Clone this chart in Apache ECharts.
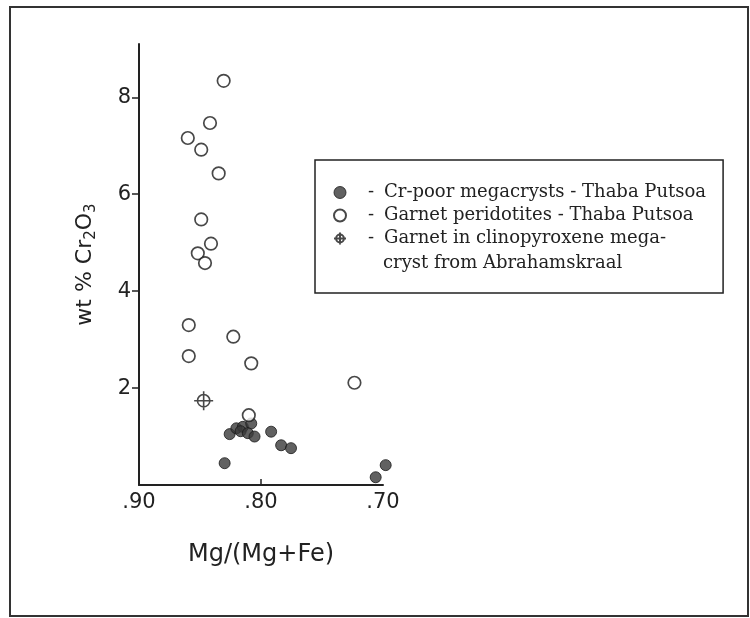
<!DOCTYPE html>
<html>
<head>
<meta charset="utf-8">
<script src="https://cdn.jsdelivr.net/npm/echarts@6/dist/echarts.min.js"></script>
<style>
  html, body { margin: 0; padding: 0; background: #fff; }
  #chart { width: 750px; height: 618px; }
</style>
</head>
<body>
<div id="chart"></div>
<script>
// Cr-poor megacrysts - Thaba Putsoa (filled)
var crPoorMg = [0.8257, 0.8202, 0.8149, 0.8167, 0.8080, 0.8108, 0.8053, 0.7917, 0.7835, 0.7754, 0.8298, 0.7060, 0.6978];
var crPoorCr = [1.05, 1.17, 1.20, 1.11, 1.27, 1.07, 1.00, 1.10, 0.82, 0.76, 0.45, 0.16, 0.41];

// Garnet peridotites - Thaba Putsoa (open)
var peridMg = [0.8306, 0.8418, 0.8600, 0.8490, 0.8347, 0.8490, 0.8410, 0.8518, 0.8459, 0.8592, 0.8227, 0.8592, 0.8080, 0.7234, 0.8100];
var peridCr = [8.34, 7.47, 7.16, 6.92, 6.43, 5.48, 4.98, 4.78, 4.58, 3.30, 3.06, 2.66, 2.51, 2.11, 1.44];

// Garnet in clinopyroxene megacryst from Abrahamskraal
var abraMg = [0.847];
var abraCr = [1.74];

var xLabelValues = [0.70, 0.80, 0.90];
var xTickValues = [0.80];
var yTickValues = [2, 4, 6, 8];

var seriesNames = [
    'Cr-poor megacrysts - Thaba Putsoa',
    'Garnet peridotites - Thaba Putsoa',
    'Garnet in clinopyroxene mega-'
];
// second line of the third legend entry
var legendTail = 'cryst from Abrahamskraal';

function zip(a, b) {
    var out = [];
    for (var i = 0; i < a.length; i++) out.push([a[i], b[i]]);
    return out;
}

var crossPath = 'path://M10,0 L10,20 M0,10 L20,10 M16.5,10 A6.5,6.5 0 1,1 3.5,10 A6.5,6.5 0 1,1 16.5,10 Z';
var sansFont = 'DejaVu Sans';
var serifFont = 'DejaVu Serif';

var chart = echarts.init(document.getElementById('chart'), null, { renderer: 'canvas' });

chart.setOption({
    backgroundColor: '#fff',
    animation: false,
    grid: { left: 139, right: 367, top: 44, bottom: 133 },
    graphic: [{
        type: 'rect',
        shape: { x: 10, y: 7, width: 738, height: 609 },
        style: { fill: 'none', stroke: '#333', lineWidth: 2 },
        silent: true
    }, {
        type: 'text',
        z: 100,
        x: 383,
        y: 263,
        style: {
            text: legendTail,
            fontFamily: serifFont,
            fontSize: 18,
            fill: '#222',
            verticalAlign: 'middle'
        },
        silent: true
    }],
    legend: {
        orient: 'vertical',
        left: 315,
        top: 160,
        padding: [21, 17, 43, 18],
        itemGap: 0,
        itemWidth: 12,
        itemHeight: 12,
        borderColor: '#222',
        borderWidth: 1.5,
        backgroundColor: '#fff',
        selectedMode: false,
        textStyle: {
            fontFamily: serifFont,
            fontSize: 18,
            color: '#222',
            lineHeight: 23,
            rich: {
                d: { width: 16, padding: [0, 0, 0, 17], fontFamily: serifFont, fontSize: 18, color: '#222' },
                t: { fontFamily: serifFont, fontSize: 18, color: '#222' }
            }
        },
        formatter: function (name) {
            return '{d|-}{t|' + name + '}';
        },
        data: [
            { name: seriesNames[0], itemStyle: { borderWidth: 1 } },
            { name: seriesNames[1] },
            { name: seriesNames[2] }
        ]
    },
    xAxis: {
        type: 'value',
        inverse: true,
        min: 0.70,
        max: 0.90,
        name: 'Mg/(Mg+Fe)',
        nameLocation: 'middle',
        nameGap: 58,
        nameTextStyle: { fontFamily: sansFont, fontSize: 24, color: '#222' },
        splitLine: { show: false },
        axisLine: { lineStyle: { color: '#222', width: 2 } },
        axisTick: {
            inside: true,
            length: 6,
            customValues: xTickValues,
            lineStyle: { color: '#222', width: 1.5 }
        },
        axisLabel: {
            customValues: xLabelValues,
            margin: 7,
            fontFamily: sansFont,
            fontSize: 21,
            color: '#222',
            formatter: function (v) { return v.toFixed(2).replace('0.', '.'); }
        }
    },
    yAxis: {
        type: 'value',
        min: 0,
        max: 9.1,
        name: '{n|wt % Cr}{s|2}{n|O}{s|3}',
        nameLocation: 'middle',
        nameRotate: 90,
        nameGap: 40,
        nameTextStyle: {
            color: '#222',
            rich: {
                n: { fontFamily: sansFont, fontSize: 22, color: '#222' },
                s: { fontFamily: sansFont, fontSize: 15, color: '#222', padding: [12, 0, 0, 0] }
            }
        },
        splitLine: { show: false },
        axisLine: { lineStyle: { color: '#222', width: 2 } },
        axisTick: {
            length: 7,
            customValues: yTickValues,
            lineStyle: { color: '#222', width: 1.5 }
        },
        axisLabel: {
            customValues: yTickValues,
            margin: 8,
            fontFamily: sansFont,
            fontSize: 21,
            color: '#222'
        }
    },
    series: [{
        name: seriesNames[0],
        type: 'scatter',
        clip: false,
        symbol: 'circle',
        symbolSize: 11,
        itemStyle: { color: '#3a3a3a', borderColor: '#1a1a1a', borderWidth: 1 },
        data: zip(crPoorMg, crPoorCr)
    }, {
        name: seriesNames[1],
        type: 'scatter',
        clip: false,
        symbol: 'circle',
        symbolSize: 12.5,
        itemStyle: { color: '#fff', borderColor: '#1a1a1a', borderWidth: 1.7 },
        data: zip(peridMg, peridCr)
    }, {
        name: seriesNames[2],
        type: 'scatter',
        clip: false,
        symbol: crossPath,
        symbolSize: 19,
        itemStyle: { color: 'rgba(0,0,0,0)', borderColor: '#1a1a1a', borderWidth: 1.6 },
        data: zip(abraMg, abraCr)
    }]
});
</script>
</body>
</html>
